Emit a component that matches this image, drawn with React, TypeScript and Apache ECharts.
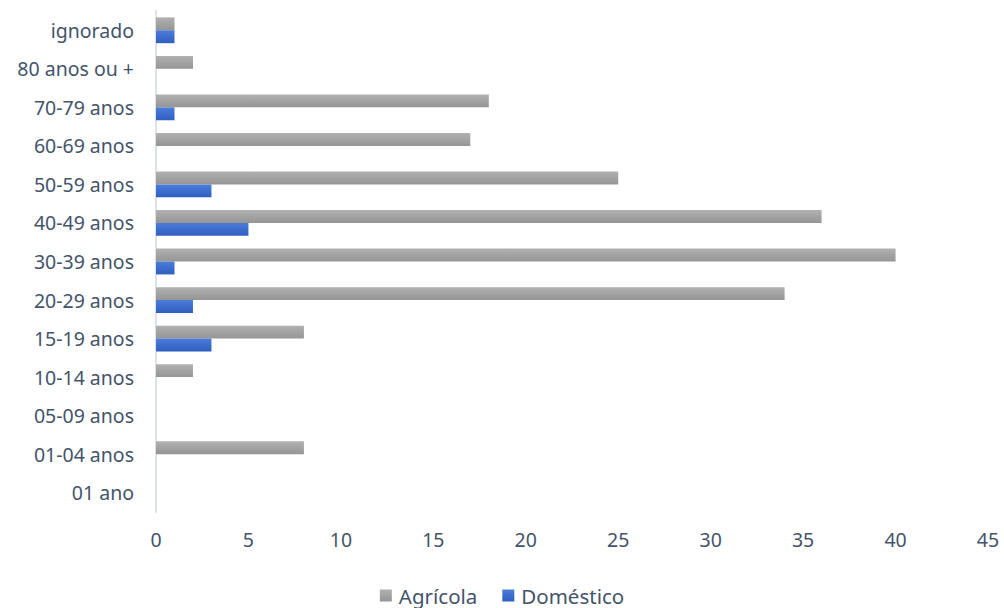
import React, { useEffect, useRef } from "react";
import * as echarts from "echarts";

const categories = [
  "01 ano",
  "01-04 anos",
  "05-09 anos",
  "10-14 anos",
  "15-19 anos",
  "20-29 anos",
  "30-39 anos",
  "40-49 anos",
  "50-59 anos",
  "60-69 anos",
  "70-79 anos",
  "80 anos ou +",
  "ignorado",
];
const agricola = [0, 8, 0, 2, 8, 34, 40, 36, 25, 17, 18, 2, 1];
const domestico = [0, 0, 0, 0, 3, 2, 1, 5, 3, 0, 1, 0, 1];
const xTicks = { min: 0, max: 45, interval: 5 };

const FONT = "Noto Sans";
const TEXT = "#44546A";

export default function App() {
  const ref = useRef<HTMLDivElement>(null);
  useEffect(() => {
    document.body.style.margin = "0";
    const chart = echarts.init(ref.current!, null, { renderer: "svg" });
    const grey = new echarts.graphic.LinearGradient(0, 0, 0, 1, [
      { offset: 0, color: "#b1b1b1" },
      { offset: 1, color: "#959595" },
    ]);
    const blue = new echarts.graphic.LinearGradient(0, 0, 0, 1, [
      { offset: 0, color: "#4d7dd9" },
      { offset: 1, color: "#2e5ec0" },
    ]);
    chart.setOption({
      animation: false,
      textStyle: { fontFamily: FONT },
      grid: { left: 156, right: 16, top: 11, bottom: 96, containLabel: false },
      legend: {
        top: 585,
        left: "center",
        data: ["Agrícola", "Doméstico"],
        itemWidth: 12,
        itemHeight: 12,
        itemGap: 25,
        icon: "rect",
        padding: 0,
        textStyle: { fontFamily: FONT, fontSize: 20.5, color: TEXT, padding: [0, 0, 0, 2] },
      },
      xAxis: {
        type: "value",
        min: xTicks.min,
        max: xTicks.max,
        interval: xTicks.interval,
        splitLine: { show: false },
        axisLine: { show: false },
        axisTick: { show: false },
        axisLabel: { fontFamily: FONT, fontSize: 19.5, color: TEXT, margin: 17 },
      },
      yAxis: {
        type: "category",
        data: categories,
        axisLine: { show: true, lineStyle: { color: "#dde2ea", width: 2 } },
        axisTick: { show: false },
        axisLabel: { fontFamily: FONT, fontSize: 19.5, color: TEXT, margin: 22 },
      },
      series: [
        {
          name: "Agrícola",
          type: "bar",
          data: agricola,
          barGap: "0%",
          barCategoryGap: "33%",
          itemStyle: { color: grey },
        },
        {
          name: "Doméstico",
          type: "bar",
          data: domestico,
          barGap: "0%",
          barCategoryGap: "33%",
          itemStyle: { color: blue },
        },
      ],
    });
    return () => chart.dispose();
  }, []);
  return <div ref={ref} style={{ width: 1004, height: 608 }} />;
}
